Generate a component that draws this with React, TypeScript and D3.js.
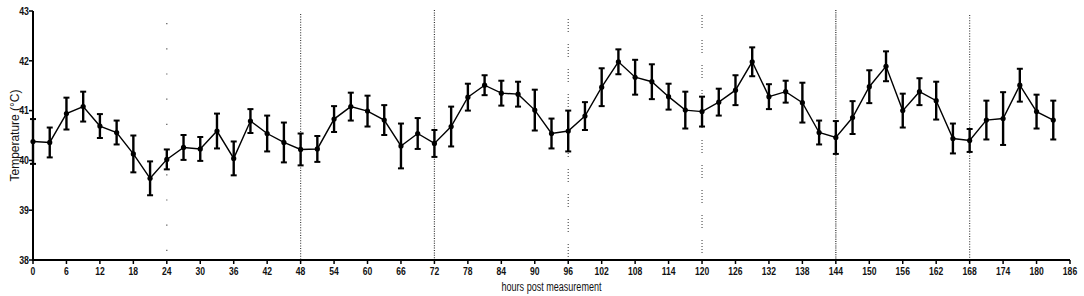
import React from "react";
import * as d3 from "d3";

const hours = [0,3,6,9,12,15,18,21,24,27,30,33,36,39,42,45,48,51,54,57,60,63,66,69,72,75,78,81,84,87,90,93,96,99,102,105,108,111,114,117,120,123,126,129,132,135,138,141,144,147,150,153,156,159,162,165,168,171,174,177,180,183];
const meanTemp = [40.38,40.36,40.94,41.08,40.69,40.56,40.13,39.64,40.02,40.26,40.23,40.59,40.04,40.79,40.54,40.36,40.22,40.23,40.83,41.08,40.99,40.81,40.29,40.54,40.34,40.68,41.27,41.51,41.35,41.33,41.01,40.54,40.59,40.89,41.47,41.98,41.67,41.58,41.28,41.01,40.98,41.17,41.41,41.98,41.28,41.38,41.16,40.56,40.46,40.86,41.48,41.89,41.00,41.38,41.20,40.44,40.40,40.81,40.84,41.51,40.98,40.81];
const errTemp = [0.45,0.30,0.32,0.30,0.24,0.24,0.37,0.34,0.20,0.25,0.24,0.35,0.34,0.24,0.36,0.40,0.32,0.26,0.26,0.28,0.31,0.30,0.45,0.31,0.27,0.40,0.27,0.20,0.25,0.25,0.41,0.30,0.41,0.28,0.38,0.25,0.35,0.35,0.26,0.37,0.30,0.27,0.30,0.29,0.25,0.22,0.40,0.24,0.33,0.33,0.33,0.30,0.34,0.27,0.38,0.30,0.23,0.39,0.53,0.33,0.34,0.39];
const xTicks = [0,6,12,18,24,30,36,42,48,54,60,66,72,78,84,90,96,102,108,114,120,126,132,138,144,150,156,162,168,174,180,186];
const yTicks = [38,39,40,41,42,43];
const dayLines = [24,48,72,96,120,144,168];

const W = 1084, H = 296;
const x = d3.scaleLinear().domain([0, 186]).range([33, 1070]);
const y = d3.scaleLinear().domain([38, 43]).range([260, 11]);

const dash: Record<number, { dash: string; top: number; color: string }> = {
  24: { dash: "1.2,24", top: 23, color: "#555" },
  48: { dash: "1,1.6", top: 14, color: "#444" },
  72: { dash: "1,1.4", top: 10, color: "#333" },
  96: { dash: "1,2,1,2,1,2,1,2,1,12", top: 19, color: "#555" },
  120: { dash: "1,2,1,2,1,2,1,2,1,12", top: 15, color: "#555" },
  144: { dash: "1,1.2", top: 10, color: "#222" },
  168: { dash: "1,1.6", top: 15, color: "#444" },
};

const font = "'Liberation Sans', Arial, sans-serif";

export default function App() {
  const pts = hours.map((h, i) => ({ h, m: meanTemp[i], e: errTemp[i] }));
  const line = d3.line<{ h: number; m: number }>().x(d => x(d.h)).y(d => y(d.m));
  return (
    <svg width={W} height={H} style={{ position: "absolute", left: 0, top: 0, background: "#fff" }}>
      <rect width={W} height={H} fill="#fff" />
      {dayLines.map(h => (
        <line key={h} x1={x(h)} x2={x(h)} y1={dash[h].top} y2={y(38)} stroke={dash[h].color} strokeWidth={1.2} strokeDasharray={dash[h].dash} />
      ))}
      {/* axes */}
      <line x1={x(0)} x2={x(0)} y1={y(43)} y2={y(38) + 1} stroke="#000" strokeWidth={2} />
      <line x1={x(0) - 1} x2={x(186)} y1={y(38)} y2={y(38)} stroke="#000" strokeWidth={2} />
      {yTicks.map(t => (
        <g key={t}>
          <line x1={x(0) - 4} x2={x(0)} y1={y(t)} y2={y(t)} stroke="#000" strokeWidth={1.5} />
          <text transform={`translate(${x(0) - 4},${y(t)}) scale(0.8,1)`} dy="0.35em" textAnchor="end" fontFamily={font} fontSize={11} fontWeight="bold" fill="#111">{t}</text>
        </g>
      ))}
      {xTicks.map(t => (
        <g key={t}>
          <line x1={x(t)} x2={x(t)} y1={y(38)} y2={y(38) + 4} stroke="#000" strokeWidth={1.5} />
          <text transform={`translate(${x(t)},275) scale(0.78,1)`} textAnchor="middle" fontFamily={font} fontSize={11} fontWeight="bold" fill="#111">{t}</text>
        </g>
      ))}
      <text x={(x(0) + x(186)) / 2} y={291} textAnchor="middle" fontFamily={font} fontSize={12} fill="#111" textLength={100} lengthAdjust="spacingAndGlyphs">hours post measurement</text>
      <text transform={`translate(19,${y(40.5)}) rotate(-90)`} textAnchor="middle" fontFamily={font} fontSize={12} fill="#111" textLength={92} lengthAdjust="spacingAndGlyphs">Temperature (°C)</text>
      {/* series */}
      <path d={line(pts) || ""} fill="none" stroke="#000" strokeWidth={1.4} />
      {pts.map(p => (
        <g key={p.h}>
          <line x1={x(p.h)} x2={x(p.h)} y1={y(p.m + p.e)} y2={y(p.m - p.e)} stroke="#000" strokeWidth={2.4} />
          <line x1={x(p.h) - 3} x2={x(p.h) + 3} y1={y(p.m + p.e)} y2={y(p.m + p.e)} stroke="#000" strokeWidth={2} />
          <line x1={x(p.h) - 3} x2={x(p.h) + 3} y1={y(p.m - p.e)} y2={y(p.m - p.e)} stroke="#000" strokeWidth={2} />
          <circle cx={x(p.h)} cy={y(p.m)} r={2.6} fill="#000" />
        </g>
      ))}
    </svg>
  );
}
